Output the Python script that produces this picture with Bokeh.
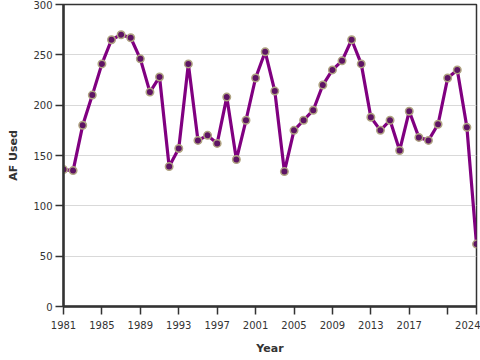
from bokeh.plotting import figure
from bokeh.models import FixedTicker, Range1d
from bokeh.embed import file_html
from bokeh.resources import INLINE

years = list(range(1981, 2025))
af_used = [136, 135, 180, 210, 241, 265, 270, 267, 246, 213,
           228, 139, 157, 241, 165, 170, 162, 208, 146, 185,
           227, 253, 214, 134, 175, 185, 195, 220, 235, 244,
           265, 241, 188, 175, 185, 155, 194, 168, 165, 181,
           227, 235, 178, 62]
x_ticks = [1981, 1985, 1989, 1993, 1997, 2001, 2005, 2009, 2013, 2017, 2021, 2024]
y_ticks = [0, 50, 100, 150, 200, 250, 300]

p = figure(width=480, height=360, output_backend="svg", toolbar_location=None,
           x_range=Range1d(1981, 2024), y_range=Range1d(0, 300),
           min_border_left=63, min_border_right=4, min_border_top=4,
           min_border_bottom=54)

p.line(years, af_used, line_color="#800080", line_width=3.2)
p.scatter(years, af_used, size=7.5, fill_color="#5e1464", line_color="#b0a482", line_width=1.5)

p.xaxis.ticker = FixedTicker(ticks=x_ticks)
p.xaxis.major_label_overrides = {2021: ""}
p.yaxis.ticker = FixedTicker(ticks=y_ticks)
for ax in (p.xaxis[0], p.yaxis[0]):
    ax.axis_line_width = 2.5
    ax.axis_line_color = "#333333"
    ax.major_tick_line_color = "#333333"
    ax.major_tick_line_width = 1.5
    ax.major_tick_out = 8
    ax.major_tick_in = 0
    ax.minor_tick_line_color = None
    ax.major_label_text_font = "DejaVu Sans"
    ax.major_label_text_font_size = "10px"
    ax.major_label_text_color = "#333333"
    ax.axis_label_text_font = "DejaVu Sans"
    ax.axis_label_text_font_size = "11px"
    ax.axis_label_text_font_style = "bold"
    ax.axis_label_text_color = "#333333"
p.xaxis.axis_label = "Year"
p.yaxis.axis_label = "AF Used"
p.xaxis.axis_label_standoff = 10
p.yaxis.axis_label_standoff = 10
p.xaxis.major_label_standoff = 6
p.yaxis.major_label_standoff = 3
p.xgrid.grid_line_color = None
p.ygrid.grid_line_color = "#d9d9d9"
p.ygrid.ticker = FixedTicker(ticks=y_ticks)
p.outline_line_color = "#333333"
p.outline_line_width = 1.5
p.outline_line_alpha = 1.0

open("out.html", "w").write(file_html(p, INLINE))
